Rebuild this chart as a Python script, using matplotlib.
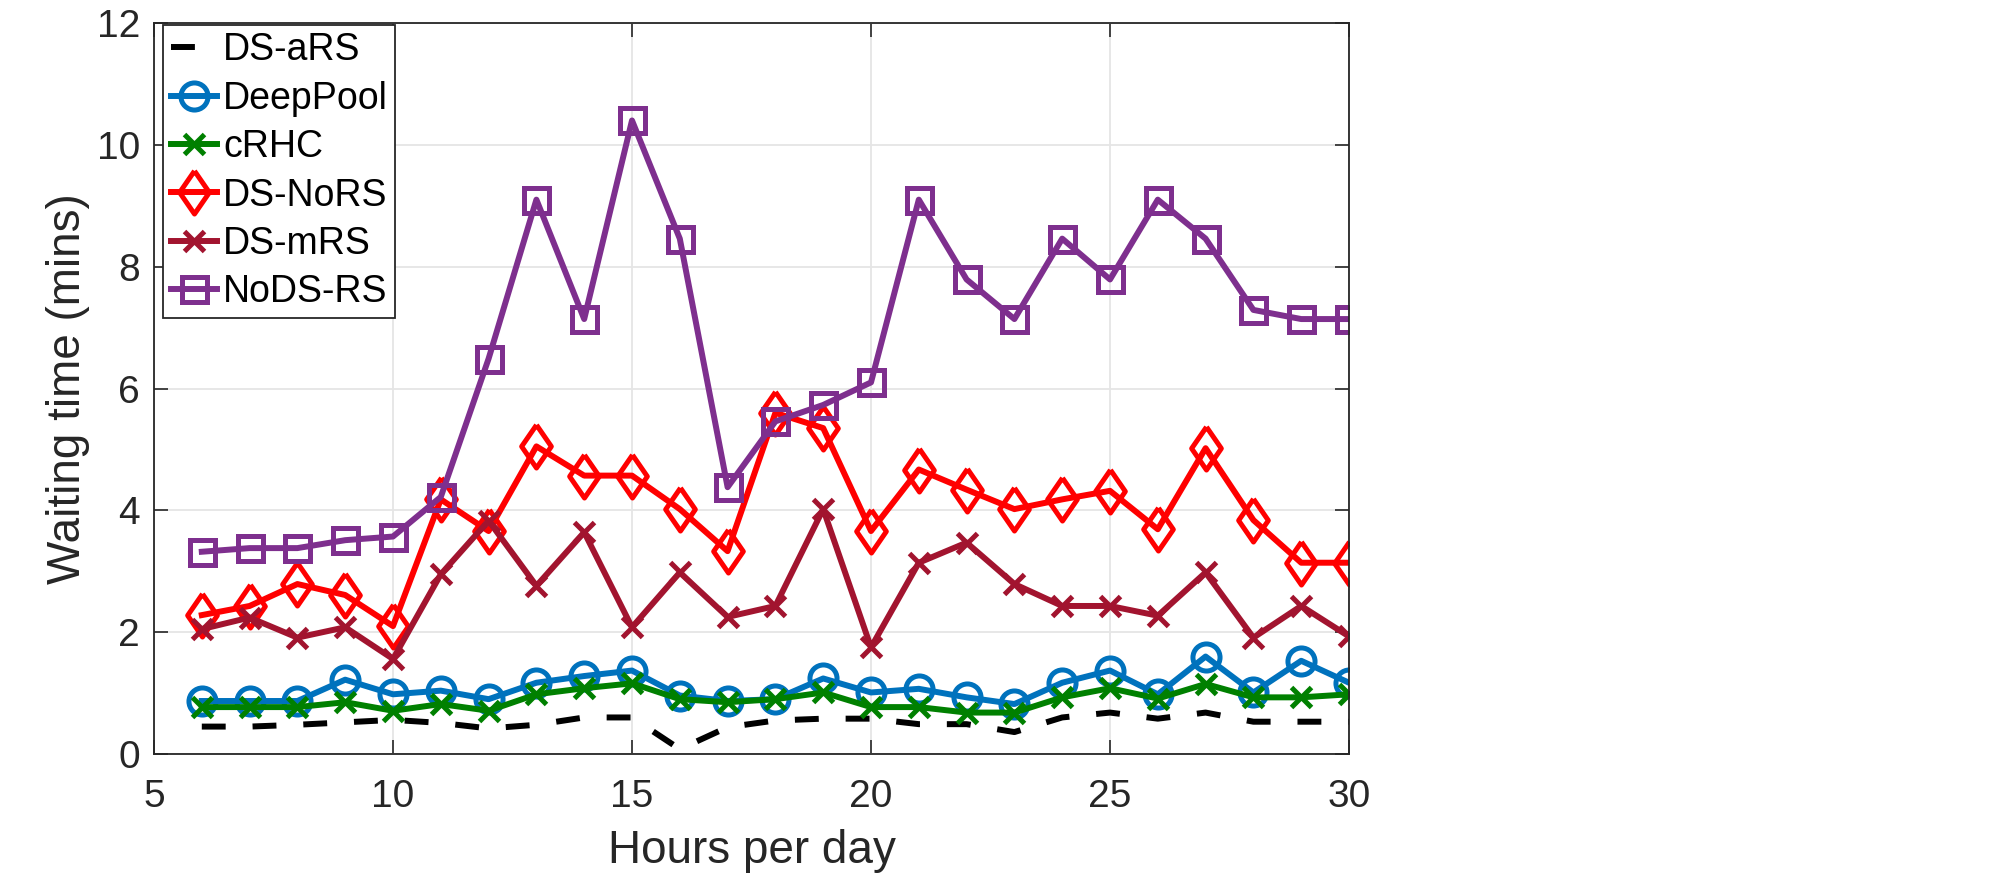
import matplotlib
matplotlib.use("Agg")
import matplotlib.pyplot as plt
import numpy as np

hours = np.arange(6, 31)

ds_ars = [0.45, 0.45, 0.48, 0.52, 0.56, 0.51, 0.42, 0.48, 0.60, 0.60, 0.08, 0.44, 0.55,
          0.58, 0.58, 0.49, 0.49, 0.36, 0.60, 0.68, 0.58, 0.68, 0.53, 0.53, 0.53]
deeppool = [0.87, 0.87, 0.87, 1.22, 0.98, 1.04, 0.90, 1.17, 1.28, 1.37, 0.96, 0.87, 0.90,
            1.24, 1.01, 1.07, 0.93, 0.82, 1.17, 1.37, 0.98, 1.60, 1.01, 1.53, 1.17]
crhc = [0.77, 0.77, 0.77, 0.85, 0.71, 0.82, 0.71, 0.98, 1.08, 1.16, 0.90, 0.85, 0.90,
        1.01, 0.77, 0.77, 0.68, 0.68, 0.93, 1.08, 0.91, 1.15, 0.93, 0.93, 0.98]
ds_nors = [2.28, 2.43, 2.79, 2.61, 2.10, 4.18, 3.66, 5.05, 4.57, 4.57, 4.02, 3.33, 5.60,
           5.35, 3.66, 4.67, 4.34, 4.02, 4.18, 4.32, 3.69, 5.02, 3.84, 3.14, 3.14]
ds_mrs = [2.05, 2.24, 1.91, 2.08, 1.56, 2.95, 3.83, 2.76, 3.64, 2.08, 2.98, 2.25, 2.43,
          4.02, 1.75, 3.14, 3.47, 2.79, 2.43, 2.43, 2.27, 2.98, 1.91, 2.43, 1.93]
nods_rs = [3.32, 3.38, 3.38, 3.51, 3.57, 4.22, 6.49, 9.10, 7.14, 10.40, 8.46, 4.38, 5.46,
           5.73, 6.10, 9.10, 7.79, 7.14, 8.46, 7.79, 9.10, 8.46, 7.29, 7.14, 7.14]

plt.rcParams["font.family"] = ["Liberation Sans", "DejaVu Sans"]

W, H = 2000, 880
fig = plt.figure(figsize=(W / 100, H / 100), dpi=100)
# axes box in pixels: left 154, right 1349, top 23, bottom 754
ax = fig.add_axes([154 / W, 1 - 754 / H, (1349 - 154) / W, (754 - 23) / H])

# MATLAB-style diamond, taller than wide
tall_diamond = [(0, 1), (0.69, 0), (0, -1), (-0.69, 0), (0, 1)]

lw = 4.3
mew = 3.6
ax.plot(hours, ds_ars, color="black", lw=lw, ls=(0, (4, 4.5)), label="DS-aRS")
ax.plot(hours, deeppool, color="#0072BD", lw=lw, marker="o", ms=19.5, mfc="none",
        mew=mew, label="DeepPool")
ax.plot(hours, crhc, color="#008000", lw=lw, marker="x", ms=15, mew=mew, label="cRHC")
ax.plot(hours, ds_nors, color="#FF0000", lw=lw, marker=tall_diamond, ms=31, mfc="none",
        mew=mew, label="DS-NoRS")
ax.plot(hours, ds_mrs, color="#A2142F", lw=lw, marker="x", ms=15, mew=mew, label="DS-mRS")
ax.plot(hours, nods_rs, color="#7E2F8E", lw=lw, marker="s", ms=18, mfc="none",
        mew=mew, label="NoDS-RS")

ax.set_xlim(5, 30)
ax.set_ylim(0, 12)
ax.set_xticks([5, 10, 15, 20, 25, 30])
ax.set_yticks([0, 2, 4, 6, 8, 10, 12])
ax.tick_params(direction="in", labelsize=28, length=10, width=1.2, colors="#262626",
               top=True, right=True, labeltop=False, labelright=False)
ax.tick_params(axis="x", pad=18)
ax.tick_params(axis="y", pad=10)
ax.grid(True, color="#e5e5e5", lw=1.3)
ax.set_axisbelow(True)
for s in ax.spines.values():
    s.set_color("#262626")
    s.set_linewidth(1.3)

ax.set_xlabel("Hours per day", fontsize=33, color="#262626", labelpad=10)
ax.set_ylabel("Waiting time (mins)", fontsize=33, color="#262626", labelpad=5)

leg = ax.legend(loc="upper left", bbox_to_anchor=(163 / W, 1 - 25 / H),
                bbox_transform=fig.transFigure, borderaxespad=0, fontsize=27,
                handlelength=1.25, handletextpad=0.15, borderpad=0.2,
                labelspacing=0.33, fancybox=False, framealpha=1,
                edgecolor="#262626")
leg.get_frame().set_linewidth(1.3)

fig.savefig("out.png", dpi=100)
plt.close(fig)
